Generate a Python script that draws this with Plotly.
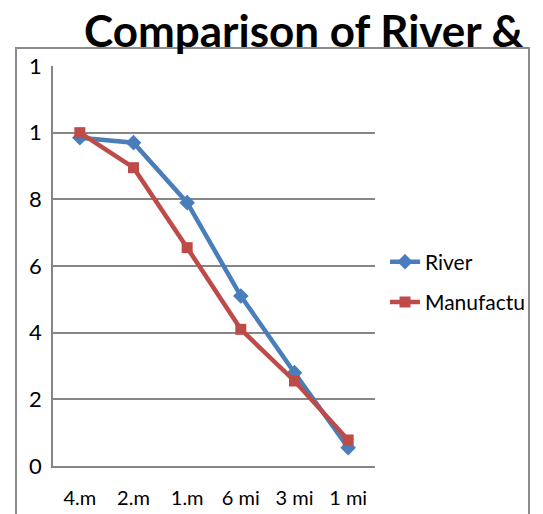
import plotly.graph_objects as go

categories = ["4.m", "2.m", "1.m", "6 mi", "3 mi", "1 mi"]
river = [9.85, 9.7, 7.9, 5.1, 2.8, 0.55]
manufacturing = [10.0, 8.95, 6.55, 4.1, 2.55, 0.78]
ytick_vals = [0, 2, 4, 6, 8, 10, 12]
ytick_text = ["0", "2", "4", "6", "8", "1", "1"]
title_text = "Comparison of River &"
series_names = ["River", "Manufactu"]

W, H = 543, 514
L, R, T, B = 53, 375, 66, 466

def px_x(px):
    return (px - L) / (R - L)

def px_y(py):
    return (B - py) / (B - T)

fig = go.Figure()
fig.add_trace(go.Scatter(
    x=categories, y=river, name=series_names[0], mode="lines+markers",
    line=dict(color="#4A7EBB", width=4.5),
    marker=dict(symbol="diamond", size=12, color="#4A7EBB"),
    legendgroup="a",
))
fig.add_trace(go.Scatter(
    x=categories, y=manufacturing, name=series_names[1], mode="lines+markers",
    line=dict(color="#BE4B48", width=4.5),
    marker=dict(symbol="square", size=11, color="#BE4B48"),
    legendgroup="b",
))

font_family = "Lato"
fig.update_layout(
    width=W, height=H,
    margin=dict(l=L, r=W - R, t=T, b=H - B, pad=0, autoexpand=False),
    paper_bgcolor="white", plot_bgcolor="white",
    font=dict(family=font_family, size=20, color="black"),
    showlegend=True,
    legend=dict(x=px_x(385), y=px_y(282), xanchor="left", yanchor="middle",
                font=dict(size=21), tracegroupgap=10, itemwidth=30,
                bgcolor="rgba(0,0,0,0)"),
    xaxis=dict(type="category", showgrid=False, showline=True, linecolor="#868686",
               linewidth=1.5, ticks="", tickfont=dict(size=20), ticklabelstandoff=13,
               range=[-0.5, 5.5], automargin=False),
    yaxis=dict(range=[0, 12], tickvals=ytick_vals, ticktext=ytick_text,
               showgrid=True, gridcolor="#868686", gridwidth=1.5, showline=True,
               linecolor="#868686", linewidth=1.5, ticks="", zeroline=False,
               tickfont=dict(size=22), ticklabelstandoff=5, automargin=False),
)

fig.add_shape(type="rect", xref="paper", yref="paper",
              x0=px_x(16), x1=px_x(529), y0=px_y(560), y1=px_y(48),
              line=dict(color="#8C8C8C", width=2), fillcolor="rgba(0,0,0,0)", layer="below")

fig.add_annotation(text="<b>" + title_text + "</b>", xref="paper", yref="paper",
                   x=px_x(82), y=px_y(58), xanchor="left", yanchor="bottom",
                   showarrow=False, font=dict(family=font_family, size=44, color="black"))

fig.write_html("out.html", config={"displayModeBar": False},
               post_script="document.body.style.margin='0';document.body.style.overflow='hidden';")
